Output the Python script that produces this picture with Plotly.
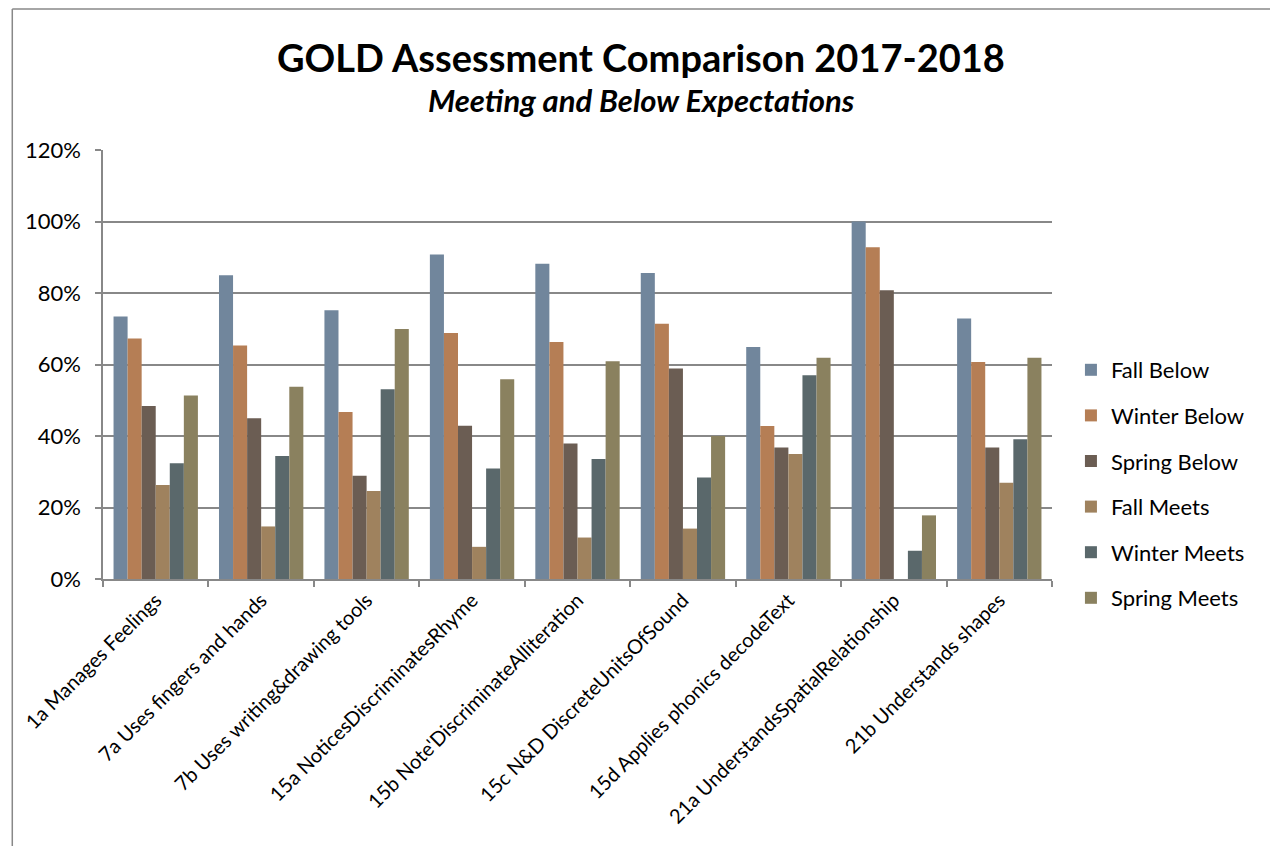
import plotly.graph_objects as go

categories = [
    "1a Manages Feelings",
    "7a Uses fingers and hands",
    "7b Uses writing&drawing tools",
    "15a NoticesDiscriminatesRhyme",
    "15b Note'DiscriminateAlliteration",
    "15c N&D DiscreteUnitsOfSound",
    "15d Applies phonics decodeText",
    "21a UnderstandsSpatialRelationship",
    "21b Understands shapes",
]

fall_below = [0.734, 0.850, 0.752, 0.908, 0.882, 0.856, 0.649, 1.000, 0.729]
winter_below = [0.673, 0.653, 0.467, 0.688, 0.663, 0.714, 0.428, 0.928, 0.607]
spring_below = [0.484, 0.450, 0.289, 0.429, 0.379, 0.589, 0.368, 0.808, 0.368]
fall_meets = [0.263, 0.147, 0.246, 0.090, 0.116, 0.141, 0.350, 0.0, 0.269]
winter_meets = [0.324, 0.344, 0.531, 0.309, 0.336, 0.284, 0.570, 0.079, 0.391]
spring_meets = [0.513, 0.538, 0.699, 0.559, 0.609, 0.400, 0.619, 0.178, 0.619]

series_names = ["Fall Below", "Winter Below", "Spring Below", "Fall Meets", "Winter Meets", "Spring Meets"]
series_values = [fall_below, winter_below, spring_below, fall_meets, winter_meets, spring_meets]
colors = ["#71869C", "#B57E55", "#6B5D53", "#9F825E", "#5A686B", "#8A815F"]

FONT = "Lato"

fig = go.Figure()
for i, (name, vals, col) in enumerate(zip(series_names, series_values, colors)):
    fig.add_trace(go.Bar(
        x=categories, y=vals, name=name,
        marker=dict(color=col, line=dict(width=0)),
        legendgroup="g%d" % i,
    ))

OFF = 8  # page body offset
W, H = 1278 - OFF, 846 - OFF
L, R, T, B = 100 - OFF, 1052 - OFF, 150 - OFF, 579 - OFF


def px(x):
    return (x - OFF - L) / (R - L)


def py(y):
    return (B - (y - OFF)) / (B - T)


border = dict(color="#888888", width=1.5)
x_left, x_right = px(OFF + 1), px(1275.5)
y_top, y_bot = py(OFF + 1), py(900)

fig.update_layout(
    width=W, height=H,
    margin=dict(l=L, r=W - R, t=T, b=H - B),
    paper_bgcolor="white", plot_bgcolor="white",
    barmode="group", bargap=0.2, bargroupgap=0,
    font=dict(family=FONT, color="#000000"),
    showlegend=True,
    legend=dict(
        x=px(1071), xanchor="left",
        y=py(484), yanchor="middle",
        font=dict(size=22, family=FONT, color="#000"),
        tracegroupgap=14,
        itemwidth=30,
        bgcolor="rgba(0,0,0,0)",
    ),
    xaxis=dict(
        type="category",
        tickangle=-45,
        tickfont=dict(size=20, family=FONT, color="#000"),
        showline=True, linecolor="#888888", linewidth=1.5,
        ticks="outside", tickson="boundaries", ticklen=6, tickcolor="#888888", tickwidth=1.5,
        showgrid=False,
    ),
    yaxis=dict(
        range=[0, 1.2], dtick=0.2, tickformat=".0%",
        tickfont=dict(size=22, family=FONT, color="#000"),
        ticklabelstandoff=10,
        showline=True, linecolor="#888888", linewidth=1.5,
        ticks="outside", ticklen=6, tickcolor="#888888", tickwidth=1.5,
        showgrid=True, gridcolor="#888888", gridwidth=1.5,
        zeroline=False,
    ),
    annotations=[
        dict(text="<b>GOLD Assessment Comparison 2017-2018</b>", xref="paper", yref="paper",
             x=px(640), y=py(57), xanchor="center", yanchor="middle",
             showarrow=False, font=dict(size=38, family=FONT, color="#000")),
        dict(text="<b><i>Meeting and Below Expectations</i></b>", xref="paper", yref="paper",
             x=px(640), y=py(100), xanchor="center", yanchor="middle",
             showarrow=False, font=dict(size=31, family=FONT, color="#000")),
    ],
    shapes=[
        dict(type="line", xref="paper", yref="paper",
             x0=x_left, x1=x_left, y0=y_top, y1=y_bot, line=border),
        dict(type="line", xref="paper", yref="paper",
             x0=x_right, x1=x_right, y0=y_top, y1=y_bot, line=border),
        dict(type="line", xref="paper", yref="paper",
             x0=x_left, x1=x_right, y0=y_top, y1=y_top, line=border),
    ],
)

fig.write_html("out.html")
